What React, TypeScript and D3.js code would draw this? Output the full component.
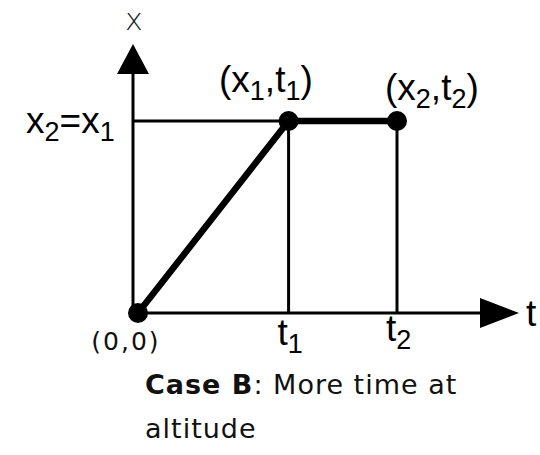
import React from "react";
import * as d3 from "d3";

// Data: the path of the altitude profile (time, altitude)
const pointLabels = ["(0,0)", "(x1,t1)", "(x2,t2)"];
const times = [0, 1.0, 1.72];
const altitudes = [0, 1, 1];
const timeTickLabels = ["t1", "t2"];

const W = 540;
const H = 455;

const tScale = d3.scaleLinear().domain([0, 1.72]).range([138, 397]);
const xScale = d3.scaleLinear().domain([0, 1]).range([313, 121]);

const SANS = "'Liberation Sans', Arial, Helvetica, sans-serif";
const PIX = "'DejaVu Sans', Verdana, sans-serif";

export default function App() {
  const axisX = 133;
  const axisY = 313;
  const pts = times.map((t, i) => [tScale(t), xScale(altitudes[i])] as [number, number]);
  const line = d3.line<[number, number]>()(pts) || "";
  const fs = 37;
  const ss = 27;
  const d = 8;
  return (
    <svg width={W} height={H} style={{ position: "absolute", left: 0, top: 0, background: "#fff" }}>
      {/* axes */}
      <line x1={axisX} y1={axisY} x2={axisX} y2={70} stroke="#000" strokeWidth={3} />
      <polygon points={`${axisX},44 ${axisX - 16},74 ${axisX + 16},74`} fill="#000" />
      <line x1={axisX} y1={axisY} x2={484} y2={axisY} stroke="#000" strokeWidth={3} />
      <polygon points={`519,${axisY} 480,${axisY - 15} 480,${axisY + 15}`} fill="#000" />
      {/* guide lines */}
      <line x1={axisX} y1={xScale(1)} x2={tScale(times[1])} y2={xScale(1)} stroke="#000" strokeWidth={3} />
      {times.slice(1).map((t, i) => (
        <line key={i} x1={tScale(t)} y1={xScale(1)} x2={tScale(t)} y2={axisY} stroke="#000" strokeWidth={3} />
      ))}
      {/* profile */}
      <path d={line} fill="none" stroke="#000" strokeWidth={6.5} />
      {pts.map((p, i) => (
        <circle key={i} cx={p[0]} cy={p[1]} r={10} fill="#000" />
      ))}
      {/* labels */}
      <text x={134} y={30} fontFamily={PIX} fontSize={30} fontWeight={200} textAnchor="middle" fill="#222">x</text>
      <text x={526} y={326} fontFamily={SANS} fontSize={fs}>t</text>
      <text x={26} y={133} fontFamily={SANS} fontSize={fs}>
        <tspan>x</tspan>
        <tspan fontSize={ss} dy={d}>2</tspan>
        <tspan dy={-d}>=x</tspan>
        <tspan fontSize={ss} dy={d}>1</tspan>
      </text>
      <text x={219} y={92} fontFamily={SANS} fontSize={fs}>
        <tspan>(x</tspan>
        <tspan fontSize={ss} dy={d}>1</tspan>
        <tspan dy={-d}>,t</tspan>
        <tspan fontSize={ss} dy={d}>1</tspan>
        <tspan dy={-d}>)</tspan>
      </text>
      <text x={385} y={100} fontFamily={SANS} fontSize={fs}>
        <tspan>(x</tspan>
        <tspan fontSize={ss} dy={d}>2</tspan>
        <tspan dy={-d}>,t</tspan>
        <tspan fontSize={ss} dy={d}>2</tspan>
        <tspan dy={-d}>)</tspan>
      </text>
      {timeTickLabels.map((lab, i) => (
        <text key={lab} x={tScale(times[i + 1]) - 11} y={i === 0 ? 345 : 341} fontFamily={SANS} fontSize={fs}>
          <tspan>{lab[0]}</tspan>
          <tspan fontSize={ss} dy={d}>{lab.slice(1)}</tspan>
        </text>
      ))}
      <text x={126} y={350} fontFamily={PIX} fontSize={25} letterSpacing={2} textAnchor="middle" fill="#111">{pointLabels[0]}</text>
      <text x={145} y={394} fontFamily={PIX} fontSize={27} letterSpacing={1} fill="#111">
        <tspan fontWeight="bold">Case B</tspan>
        <tspan>:  More time at</tspan>
      </text>
      <text x={145} y={438} fontFamily={PIX} fontSize={27} letterSpacing={1} fill="#111">altitude</text>
    </svg>
  );
}
